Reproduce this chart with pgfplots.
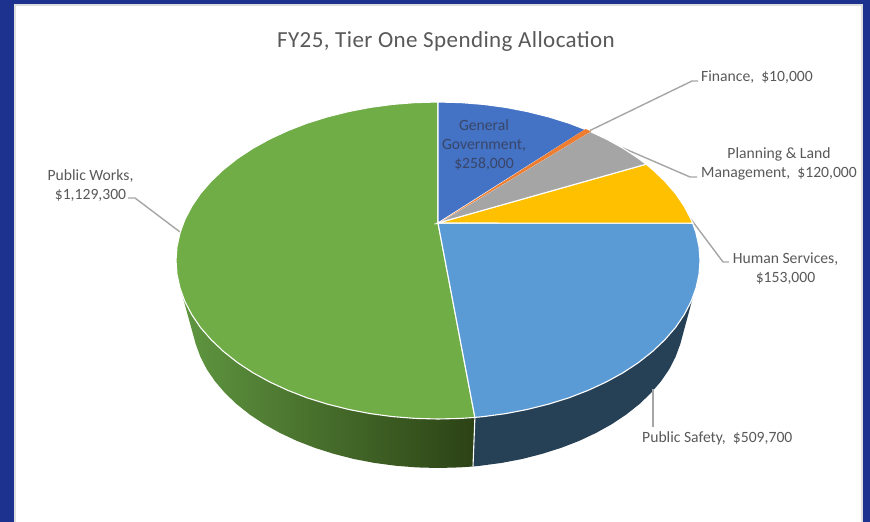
\documentclass[border=0pt]{standalone}
\usepackage{pgfplots}
\usepackage{fontspec}
\setmainfont{Carlito}
\pgfplotsset{compat=1.18}
\definecolor{frame}{HTML}{1D318F}
\definecolor{edgeg}{HTML}{DEDEDE}
\definecolor{txt}{HTML}{595959}
\definecolor{lead}{HTML}{A6A6A6}
\definecolor{sblue}{HTML}{4472C4}
\definecolor{sorange}{HTML}{ED7D31}
\definecolor{sgray}{HTML}{A5A5A5}
\definecolor{syellow}{HTML}{FFC000}
\definecolor{slblue}{HTML}{5B9BD5}
\definecolor{sgreen}{HTML}{70AD47}
\definecolor{sidel}{HTML}{264056}
\definecolor{gleft}{HTML}{5F9640}
\definecolor{gright}{HTML}{2C4215}
\begin{document}
\begin{tikzpicture}
\begin{axis}[
  scale only axis, width=870pt, height=522pt,
  xmin=0, xmax=870, ymin=0, ymax=522, y dir=reverse,
  axis lines=none, clip=false,
]
% page background
\addplot[fill=frame,draw=none] coordinates {(0,0)(870,0)(870,522)(0,522)} -- cycle;
\addplot[fill=edgeg,draw=none] coordinates {(14,4)(863,4)(863,522)(14,522)} -- cycle;
\addplot[fill=white,draw=none] coordinates {(16,5.5)(861,5.5)(861,522)(16,522)} -- cycle;
% side walls
\addplot[left color=gleft,right color=gright,draw=none] coordinates {
(474.9,417.4)(460.8,418.4)(438,419)(415.2,418.4)(392.5,416.6)(370.2,413.6)(348.4,409.4)(327.3,404.1)(307,397.8)(287.7,390.3)(269.6,381.9)(252.7,372.6)(237.3,362.4)(223.4,351.4)(211.1,339.7)(200.5,327.5)(191.8,314.7)(184.9,301.5)(182.5,296)
(195.7,344)(200.4,356.8)(206.8,369.3)(215.1,381.4)(225,393)(236.5,404)(249.6,414.4)(264.1,424.1)(279.9,432.9)(296.9,440.9)(315,447.9)(334,453.9)(353.9,459)(374.3,462.9)(395.3,465.7)(416.5,467.4)(438,468)(459.5,467.4)(473,466.5)
} -- cycle;
\addplot[fill=sidel,draw=none] coordinates {
(474.9,417.4)(483.5,416.6)(505.8,413.6)(527.6,409.4)(548.7,404.1)(569,397.8)(588.3,390.3)(606.4,381.9)(623.3,372.6)(638.7,362.4)(652.6,351.4)(664.9,339.7)(675.5,327.5)(684.2,314.7)(691.1,301.5)(693.5,295)
(680.3,344)(675.6,356.8)(669.2,369.3)(660.9,381.4)(651,393)(639.5,404)(626.4,414.4)(611.9,424.1)(596.1,432.9)(579.1,440.9)(561,447.9)(542,453.9)(522.1,459)(501.7,462.9)(480.7,465.7)(473,466.5)
} -- cycle;
\addplot[white,line width=1.1pt] coordinates {(474.9,417.4)(473,466.5)};
% leader lines that pass behind the pie
\addplot[lead,line width=1.4pt] coordinates {(623,148)(690,177)(697,177)};
\addplot[lead,line width=1.4pt] coordinates {(690,218)(723,262)(729,262)};
\addplot[lead,line width=1.4pt] coordinates {(653,389)(653,427)};
\addplot[lead,line width=1.4pt] coordinates {(180,232)(135,198)(128,198)};
% top slices
\addplot[fill=sgreen,draw=white,line width=1.1pt] coordinates {
(438,223)(474.9,417.4)(460.8,418.4)(438,419)(415.2,418.4)(392.5,416.6)(370.2,413.6)(348.4,409.4)(327.3,404.1)(307,397.8)(287.7,390.3)(269.6,381.9)(252.7,372.6)(237.3,362.4)(223.4,351.4)(211.1,339.7)(200.5,327.5)(191.8,314.7)(184.9,301.5)(180,288)(177,274.3)(176,260.5)(177,246.7)(180,233)(184.9,219.5)(191.8,206.3)(200.5,193.5)(211.1,181.3)(223.4,169.6)(237.3,158.6)(252.7,148.4)(269.6,139.1)(287.7,130.7)(307,123.2)(327.3,116.9)(348.4,111.6)(370.2,107.4)(392.5,104.4)(415.2,102.6)(438,102)
} -- cycle;
\addplot[fill=slblue,draw=white,line width=1.1pt] coordinates {
(438,223)(692.7,223.2)(696,233)(699,246.7)(700,260.5)(699,274.3)(696,288)(691.1,301.5)(684.2,314.7)(675.5,327.5)(664.9,339.7)(652.6,351.4)(638.7,362.4)(623.3,372.6)(606.4,381.9)(588.3,390.3)(569,397.8)(548.7,404.1)(527.6,409.4)(505.8,413.6)(483.5,416.6)(474.9,417.4)
} -- cycle;
\addplot[fill=syellow,draw=white,line width=1.1pt] coordinates {
(438,223)(646.1,164.2)(652.6,169.6)(664.9,181.3)(675.5,193.5)(684.2,206.3)(691.1,219.5)(692.7,223.2)
} -- cycle;
\addplot[fill=sgray,draw=white,line width=1.1pt] coordinates {
(438,223)(590,131.4)(606.4,139.1)(623.3,148.4)(638.7,158.6)(646.1,164.2)
} -- cycle;
\addplot[fill=sblue,draw=white,line width=1.1pt] coordinates {
(438,223)(438,102)(460.8,102.6)(483.5,104.4)(505.8,107.4)(527.6,111.6)(548.7,116.9)(569,123.2)(585.7,129.6)
} -- cycle;
\addplot[fill=sorange,draw=none] coordinates {
(441,221.5)(585.5,129)(588.3,130.2)(591,131.4)
} -- cycle;
\addplot[lead,line width=1.4pt] coordinates {(590,130.5)(692,81)(698,81)};
% text
\node[text=txt,font=\fontsize{23}{27}\selectfont\addfontfeatures{LetterSpace=1.8}] at (axis cs:446,41.5) {FY25, Tier One Spending Allocation};
\node[text=txt,font=\fontsize{15.65}{19}\selectfont,anchor=west,inner sep=0pt] at (axis cs:701,77.5) {Finance,\ \ \$10,000};
\node[text=txt,font=\fontsize{15.65}{19}\selectfont,align=center,inner sep=0pt] at (axis cs:779,163.5) {Planning \& Land\\Management,\ \ \$120,000};
\node[text=txt,font=\fontsize{15.65}{19}\selectfont,align=center,inner sep=0pt] at (axis cs:785.5,268.5) {Human Services,\\\$153,000};
\node[text=txt,font=\fontsize{15.65}{19}\selectfont,anchor=west,inner sep=0pt] at (axis cs:642,438) {Public Safety,\ \ \$509,700};
\node[text=txt,font=\fontsize{15.65}{19}\selectfont,align=center,inner sep=0pt] at (axis cs:90.5,185.5) {Public Works,\\\$1,129,300};
\node[text={rgb,255:red,56;green,70;blue,105},font=\fontsize{15.65}{19}\selectfont,align=center,inner sep=0pt] at (axis cs:484,145) {General\\Government,\\\$258,000};
\end{axis}
\end{tikzpicture}
\end{document}
